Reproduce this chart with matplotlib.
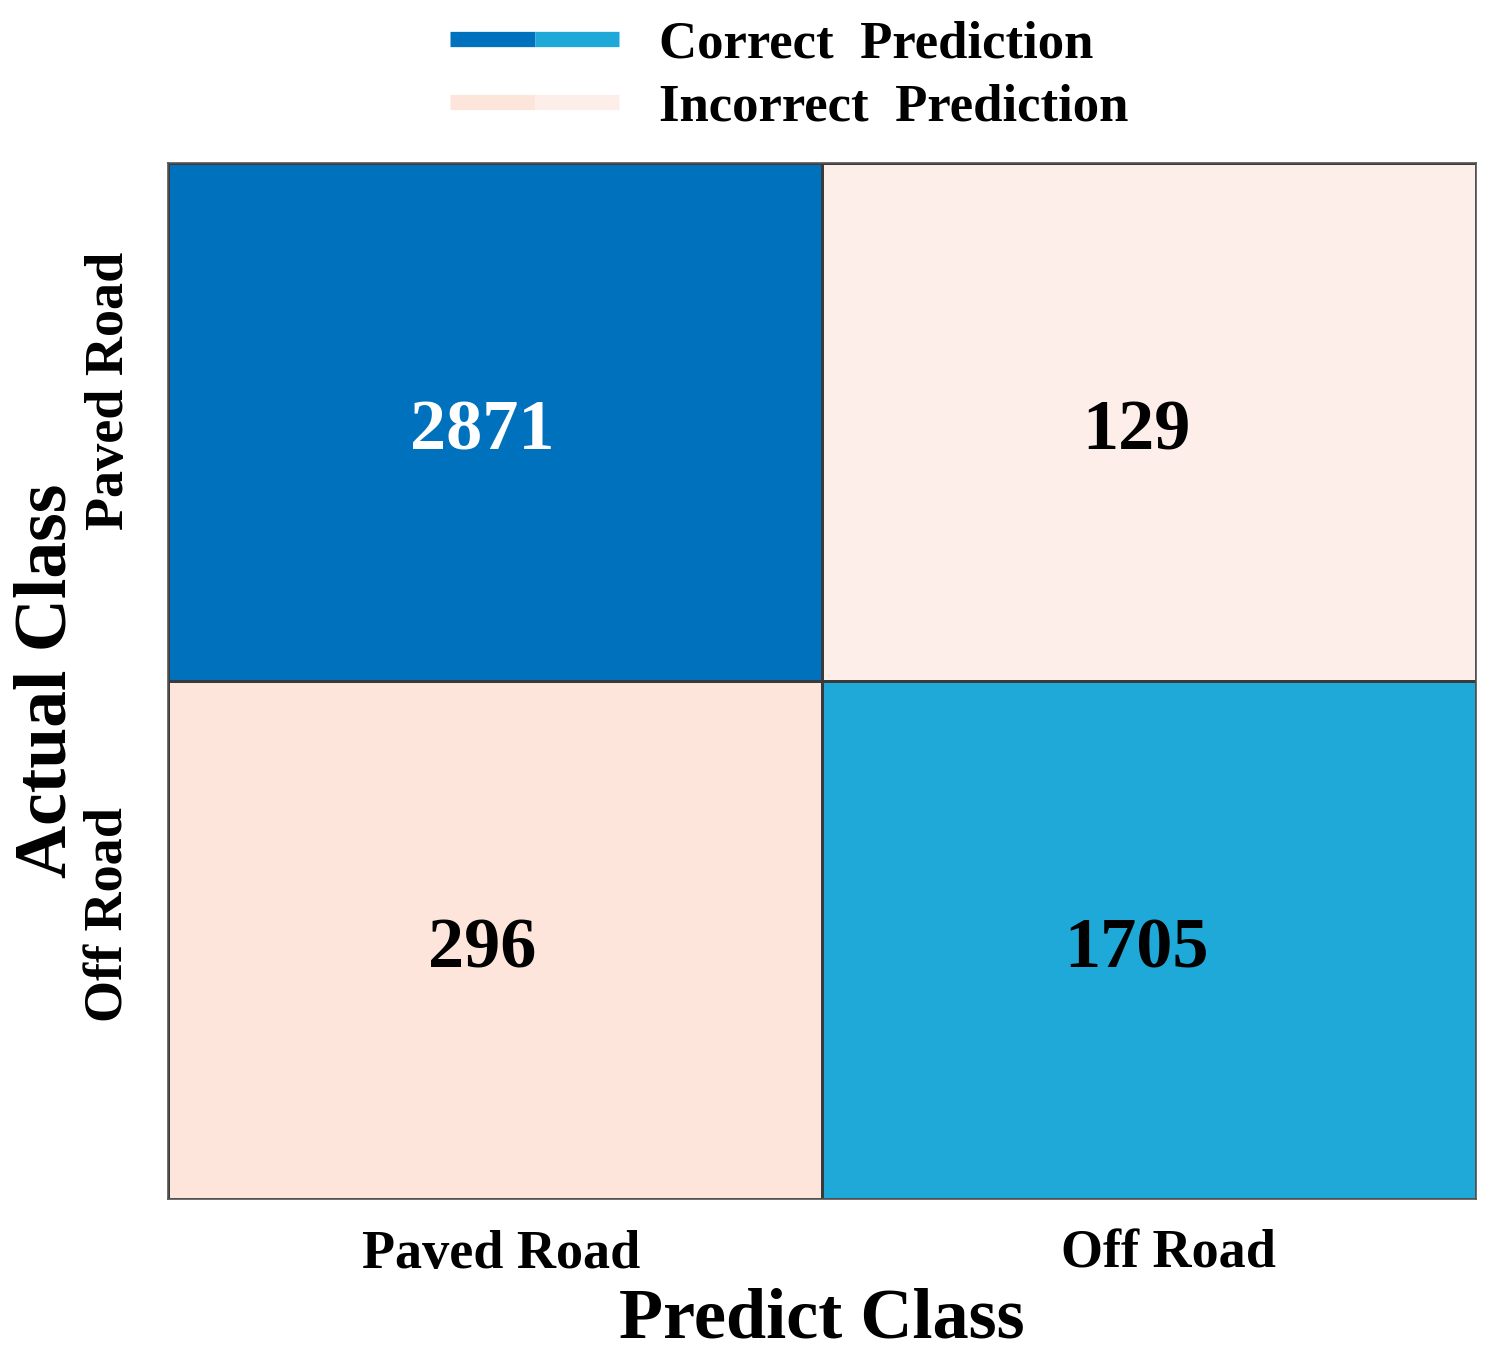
import numpy as np
import matplotlib
matplotlib.use('Agg')
import matplotlib.pyplot as plt
from matplotlib.colors import ListedColormap
from matplotlib.lines import Line2D
from matplotlib.legend_handler import HandlerTuple

plt.rcParams['font.family'] = ['Liberation Serif', 'DejaVu Serif']
plt.rcParams['font.weight'] = 'bold'

classes = ['Paved Road', 'Off Road']
counts = np.array([[2871, 129],
                   [296, 1705]])
cell_colors = ['#0072BD', '#FDEEEA', '#FDE5DC', '#1EA9D8']
text_colors = [['white', 'black'], ['black', 'black']]

fig = plt.figure(figsize=(14.95, 13.71), dpi=100)
ax = fig.add_axes([0.1124, 0.1254, 0.875, 0.7557])

idx = np.arange(counts.size).reshape(counts.shape)
ax.pcolormesh(np.arange(3), np.arange(3), idx, cmap=ListedColormap(cell_colors),
              vmin=-0.5, vmax=3.5, edgecolors='#3a3a3a', linewidth=1.0)
ax.set_xlim(0, 2)
ax.set_ylim(2, 0)

for i in range(2):
    for j in range(2):
        ax.text(j + 0.48, i + 0.52, str(counts[i, j]), ha='center', va='center',
                fontsize=52, fontweight='bold', color=text_colors[i][j])

ax.set_xticks([0.51, 1.53])
ax.set_xticklabels(classes, fontsize=39, fontweight='bold')
ax.set_yticks([0.44, 1.45])
ax.set_yticklabels(classes, fontsize=39, fontweight='bold', rotation=90, va='center')
ax.tick_params(axis='x', length=0, pad=22)
ax.tick_params(axis='y', length=0, pad=24)
ax.set_xlabel('Predict Class', fontsize=52, fontweight='bold', labelpad=6)
ax.set_ylabel('Actual Class', fontsize=53, fontweight='bold', labelpad=2)
for s in ax.spines.values():
    s.set_color('#555555')
    s.set_linewidth(1.2)

h_correct = (Line2D([], [], color=cell_colors[0], lw=11, solid_capstyle='butt'),
             Line2D([], [], color=cell_colors[3], lw=11, solid_capstyle='butt'))
h_wrong = (Line2D([], [], color=cell_colors[2], lw=11, solid_capstyle='butt'),
           Line2D([], [], color=cell_colors[1], lw=11, solid_capstyle='butt'))
fig.legend([h_correct, h_wrong], ['Correct  Prediction', 'Incorrect  Prediction'],
           handler_map={tuple: HandlerTuple(ndivide=None, pad=0)},
           loc='upper center', bbox_to_anchor=(0.528, 1.02), frameon=False,
           handlelength=3.2, handletextpad=0.75, labelspacing=0.3,
           prop={'weight': 'bold', 'size': 38})

fig.savefig('out.png', dpi=100, facecolor='white')
